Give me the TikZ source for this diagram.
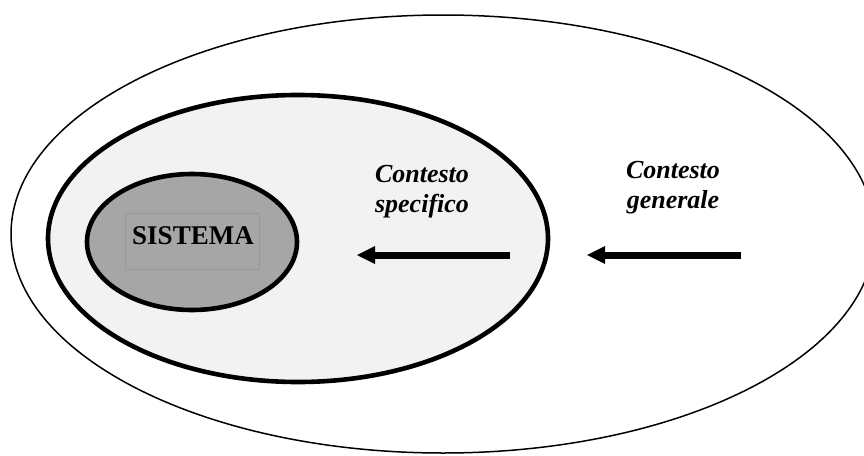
\documentclass[tikz,border=0pt]{standalone}
\usepackage{fontspec}
\setmainfont{Liberation Serif}
\usepackage{xcolor}
\usepackage{tikz}
\usetikzlibrary{arrows.meta}
\definecolor{ctxgray}{RGB}{242,242,242}
\definecolor{sysgray}{RGB}{166,166,166}
\definecolor{boxgray}{RGB}{152,152,152}

\begin{document}
\begin{tikzpicture}[x=1pt,y=-1pt,
    ctx/.style={font=\fontsize{26}{29.5}\selectfont\bfseries\itshape, align=center, anchor=base},
    bigarrow/.style={line width=7pt, -{Triangle[length=18pt,width=18pt,line width=0pt]}}]
    \path[use as bounding box] (0,0) rectangle (864,455);
    \clip (0,0) rectangle (864,455);
    \draw[line width=1.5pt] (443,234) ellipse [x radius=432, y radius=219];
    \draw[line width=4.6pt, fill=ctxgray] (298,238.5) ellipse [x radius=250, y radius=143.5];
    \draw[line width=4.6pt, fill=sysgray] (192,242) ellipse [x radius=105, y radius=68];
    \node[draw=boxgray, line width=0.6pt, minimum width=134pt, minimum height=56pt] (box) at (192,241) {};
    \node[font=\fontsize{27}{30}\selectfont\bfseries] (sys) at (193,236) {SISTEMA};
    \node[ctx] (spec) at (422,212) {Contesto\\specifico};
    \node[ctx] (gen) at (673,208) {Contesto\\generale};
    \coordinate (a1) at (510,255);
    \coordinate (b1) at (357,255);
    \coordinate (a2) at (741,255);
    \coordinate (b2) at (587,255);
    \draw[bigarrow] (a1) to (b1);
    \draw[bigarrow] (a2) to (b2);
  \end{tikzpicture}
\end{document}
